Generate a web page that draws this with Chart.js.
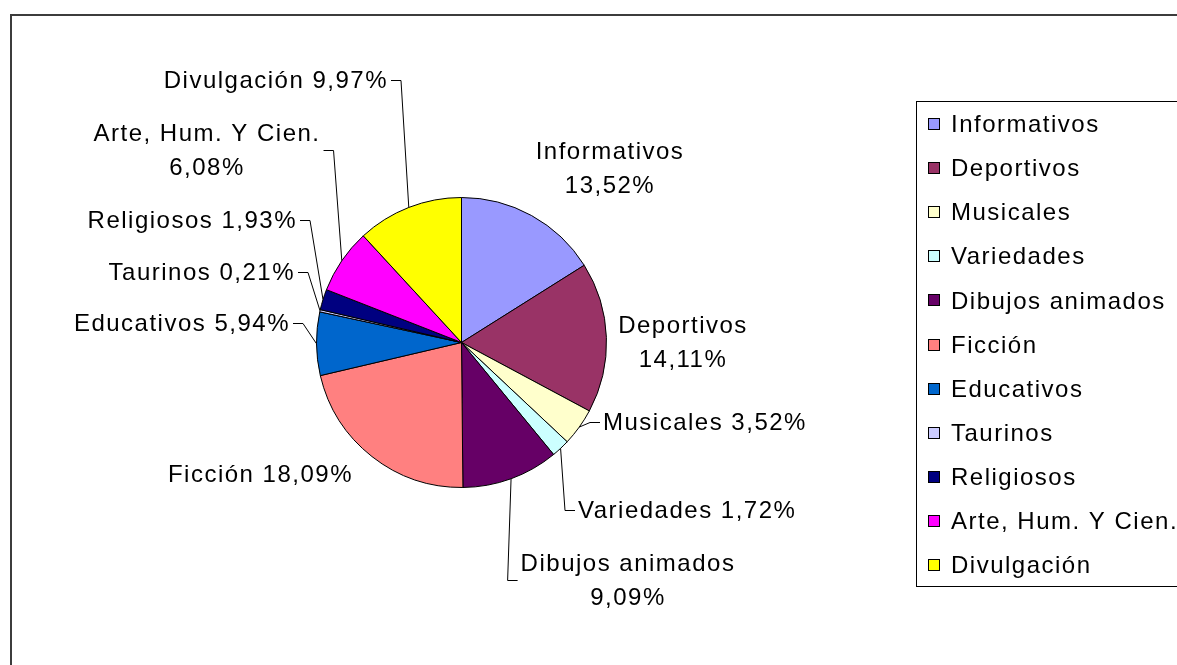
<!DOCTYPE html>
<html lang="es">
<head>
    <meta charset="UTF-8">
    <title>Programación por géneros</title>
    <style>
        html, body { margin: 0; padding: 0; background: #fff; }
        canvas { display: block; }
    </style>
</head>
<body>
    <canvas id="myChart" width="1177" height="665"></canvas>

    <script src="https://cdn.jsdelivr.net/npm/chart.js"></script>

    <script>
        // datos del gráfico
        const categories = ['Informativos', 'Deportivos', 'Musicales', 'Variedades', 'Dibujos animados',
            'Ficción', 'Educativos', 'Taurinos', 'Religiosos', 'Arte, Hum. Y Cien.', 'Divulgación'];
        const percents = [13.52, 14.11, 3.52, 1.72, 9.09, 18.09, 5.94, 0.21, 1.93, 6.08, 9.97];
        const colors = ['#9999FF', '#993366', '#FFFFCC', '#CCFFFF', '#660066',
            '#FF8080', '#0066CC', '#CCCCFF', '#000080', '#FF00FF', '#FFFF00'];

        // posición de las etiquetas respecto al centro de la tarta
        const labelLayout = [
            { dx: 148.5,  dy: -174.5, align: 'center', wrap: true,  leader: null },
            { dx: 221.5,  dy: -1,     align: 'center', wrap: true,  leader: null },
            { dx: 141.5,  dy: 79.5,   align: 'left',   wrap: false, leader: 'left' },
            { dx: 116.5,  dy: 167.5,  align: 'left',   wrap: false, leader: 'left' },
            { dx: 166.5,  dy: 237.5,  align: 'center', wrap: true,  leader: 'left' },
            { dx: -108.5, dy: 131.5,  align: 'right',  wrap: false, leader: null },
            { dx: -171.5, dy: -19.5,  align: 'right',  wrap: false, leader: 'right' },
            { dx: -166.5, dy: -70.5,  align: 'right',  wrap: false, leader: 'right' },
            { dx: -164.5, dy: -122.5, align: 'right',  wrap: false, leader: 'right' },
            { dx: -254.5, dy: -192.5, align: 'center', wrap: true,  leader: 'right' },
            { dx: -73.5,  dy: -262.5, align: 'right',  wrap: false, leader: 'right' },
        ];

        const FONT = '24px "Liberation Sans", Arial, sans-serif';
        const SPACING = '1.5px';
        const LINE_H = 34;
        const TEXT_DY = 1.5;

        const pctText = v => v.toFixed(2).replace('.', ',') + '%';

        // marco exterior del gráfico
        const frame = {
            id: 'frame',
            beforeDraw(chart) {
                const ctx = chart.ctx;
                ctx.save();
                ctx.fillStyle = '#3c3c3c';
                ctx.fillRect(10, 14, chart.width - 10, 2);
                ctx.fillRect(10, 14, 2, chart.height - 14);
                ctx.restore();
            }
        };

        // etiquetas con líneas guía
        const pieLabels = {
            id: 'pieLabels',
            afterDraw(chart) {
                const ctx = chart.ctx;
                const meta = chart.getDatasetMeta(0);
                ctx.save();
                ctx.font = FONT;
                ctx.letterSpacing = SPACING;
                ctx.fillStyle = '#000';
                ctx.strokeStyle = '#000';
                ctx.lineWidth = 1;
                ctx.textBaseline = 'middle';
                ctx.textAlign = 'center';

                meta.data.forEach((arc, i) => {
                    const lay = labelLayout[i];
                    const cx = arc.x + lay.dx;
                    const cy = arc.y + lay.dy;
                    const txt = pctText(percents[i]);
                    const lines = lay.wrap ? [categories[i], txt] : [categories[i] + ' ' + txt];
                    const w = Math.max(...lines.map(l => ctx.measureText(l).width));
                    let left = cx - w / 2;
                    if (lay.align === 'left') left = cx;
                    if (lay.align === 'right') left = cx - w;
                    const right = left + w;
                    const top = cy - lines.length * LINE_H / 2;

                    lines.forEach((l, k) => {
                        ctx.fillText(l, (left + right) / 2, top + LINE_H * (k + 0.5) + TEXT_DY);
                    });

                    if (lay.leader) {
                        const a = (arc.startAngle + arc.endAngle) / 2;
                        const px = arc.x + Math.cos(a) * arc.outerRadius;
                        const py = arc.y + Math.sin(a) * arc.outerRadius;
                        const sx = lay.leader === 'left' ? left - 3 : right + 3;
                        const ex = lay.leader === 'left' ? left - 13 : right + 13;
                        const ly = Math.round(cy) + 0.5;
                        ctx.beginPath();
                        ctx.moveTo(sx, ly);
                        ctx.lineTo(ex, ly);
                        ctx.lineTo(px, py);
                        ctx.stroke();
                    }
                });
                ctx.restore();
            }
        };

        // leyenda en recuadro a la derecha
        const boxLegend = {
            id: 'boxLegend',
            afterDraw(chart) {
                const ctx = chart.ctx;
                const ds = chart.data.datasets[0];
                ctx.save();
                ctx.strokeStyle = '#000';
                ctx.lineWidth = 1;
                ctx.strokeRect(916.5, 101.5, 300, 485);
                ctx.font = FONT;
                ctx.letterSpacing = SPACING;
                ctx.textBaseline = 'middle';
                ctx.textAlign = 'left';
                chart.data.labels.forEach((lbl, i) => {
                    const y = 124 + i * 44.1;
                    ctx.fillStyle = ds.backgroundColor[i];
                    ctx.fillRect(928, Math.round(y) - 6, 12, 12);
                    ctx.strokeRect(928.5, Math.round(y) - 5.5, 11, 11);
                    ctx.fillStyle = '#000';
                    ctx.fillText(lbl, 951, y + TEXT_DY);
                });
                ctx.restore();
            }
        };

        const ctx = document.getElementById('myChart');

        new Chart(ctx, {
            type: 'pie',
            data: {
                labels: categories,
                datasets: [{
                    data: percents,
                    backgroundColor: colors,
                    borderColor: '#000',
                    borderWidth: 1,
                    radius: 145,
                }],
            },
            options: {
                responsive: false,
                animation: false,
                events: [],
                layout: {
                    padding: { left: 100, right: 354, top: 120, bottom: 100 }
                },
                plugins: {
                    legend: { display: false },
                    tooltip: { enabled: false },
                }
            },
            plugins: [frame, pieLabels, boxLegend],
        });
    </script>
</body>
</html>
